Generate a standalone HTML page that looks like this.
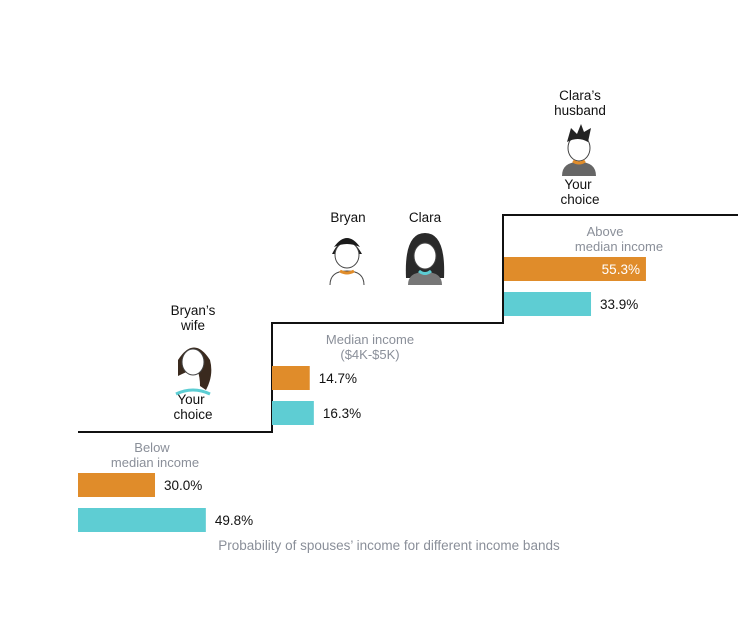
<!DOCTYPE html>
<html><head><meta charset="utf-8"><style>
body{margin:0;background:#fff;}
svg text{font-family:"Liberation Sans",sans-serif;}
</style></head><body>
<svg width="743" height="613" xmlns="http://www.w3.org/2000/svg">
<polyline points="78,432 272,432 272,323 503,323 503,215 738,215" fill="none" stroke="#111" stroke-width="2"/>
<g id="bars"></g>
<g fill="#8a8f99" font-size="13" text-anchor="middle">
<text x="152" y="452">Below</text><text x="155" y="467">median income</text>
<text x="370" y="344">Median income</text><text x="370" y="359">($4K-$5K)</text>
<text x="605" y="236">Above</text><text x="619" y="251">median income</text>
</g>
<text x="389" y="550" text-anchor="middle" font-size="13.5" fill="#8a8f99">Probability of spouses’ income for different income bands</text>
<g font-size="13.5" fill="#111" text-anchor="middle">
<text x="193" y="315">Bryan’s</text><text x="193" y="330">wife</text>
<text x="191" y="404">Your</text><text x="193" y="419">choice</text>
<text x="348" y="222">Bryan</text><text x="425" y="222">Clara</text>
<text x="580" y="100">Clara’s</text><text x="580" y="115">husband</text>
<text x="578" y="189">Your</text><text x="580" y="204">choice</text>
</g>
<g>
<path d="M178,360 q16,-25 32,0 q4,15 -4,30 l-6,-4 q0,-12 -4,-18 q-10,4 -18,8 z" fill="#3a2a1e"/>
<ellipse cx="193" cy="362" rx="11" ry="13" fill="#fff" stroke="#444"/>
<path d="M176,394 q17,-8 34,0" stroke="#5ccdd3" stroke-width="3" fill="none"/>
</g>
<g>
<path d="M332,254 q14,-28 30,0 z" fill="#1a1a1a"/>
<ellipse cx="347" cy="255" rx="12" ry="13" fill="#fff" stroke="#444"/>
<path d="M334,247 q13,-18 26,0 q-13,-6 -26,0z" fill="#1a1a1a"/>
<path d="M330,285 q0,-14 17,-14 q17,0 17,14" fill="none" stroke="#444"/>
<path d="M340,271 q7,4 14,0" stroke="#e08c2a" stroke-width="3" fill="none"/>
</g>
<g>
<path d="M406,278 q-2,-45 19,-45 q21,0 19,45 z" fill="#2a2a2a"/>
<ellipse cx="425" cy="256" rx="11" ry="13" fill="#fff" stroke="#444"/>
<path d="M408,285 q0,-13 17,-13 q17,0 17,13 z" fill="#777"/>
<path d="M419,271 q6,5 12,0" stroke="#5ccdd3" stroke-width="3" fill="none"/>
</g>
<g>
<ellipse cx="579" cy="148" rx="11" ry="13" fill="#fff" stroke="#444"/>
<path d="M567,142 l4,-14 l6,6 l4,-10 l3,8 l7,-4 l-3,14 q-10,-6 -21,0z" fill="#222"/>
<path d="M562,176 q0,-14 17,-14 q17,0 17,14 z" fill="#666"/>
<path d="M573,161 q6,4 12,0" stroke="#e08c2a" stroke-width="3" fill="none"/>
</g>
<script>
const bands=["below","median","above"];
const spouseVals=[30.0,14.7,55.3];
const choiceVals=[49.8,16.3,33.9];
const valLabels1=["30.0%","14.7%","55.3%"];
const valLabels2=["49.8%","16.3%","33.9%"];
const NS="http://www.w3.org/2000/svg";
const xs=v=>v*2.567;
const x0=[78,272,504], y0=[473,366,257], y1=[508,401,292];
const g=document.getElementById('bars');
function bar(x,y,v,col,lab,name,inside){
 const r=document.createElementNS(NS,'rect');
 r.setAttribute('x',x);r.setAttribute('y',y);r.setAttribute('width',xs(v));r.setAttribute('height',24);r.setAttribute('fill',col);
 
 
 g.appendChild(r);
 const t=document.createElementNS(NS,'text');
 t.setAttribute('y',y+17);t.setAttribute('font-size','13.5');
 if(inside){t.setAttribute('x',x+xs(v)-6);t.setAttribute('text-anchor','end');t.setAttribute('fill','#fff');}
 else{t.setAttribute('x',x+xs(v)+9);t.setAttribute('fill','#111');}
 t.textContent=lab;
 
 
 g.appendChild(t);
}
bands.forEach((b,i)=>{
 bar(x0[i],y0[i],spouseVals[i],'#e08c2a',valLabels1[i],'bar-'+b+'-spouse',spouseVals[i]>50);
 bar(x0[i],y1[i],choiceVals[i],'#5ecdd3',valLabels2[i],'bar-'+b+'-choice',choiceVals[i]>50);
});
</script>
</svg>
</body></html>
